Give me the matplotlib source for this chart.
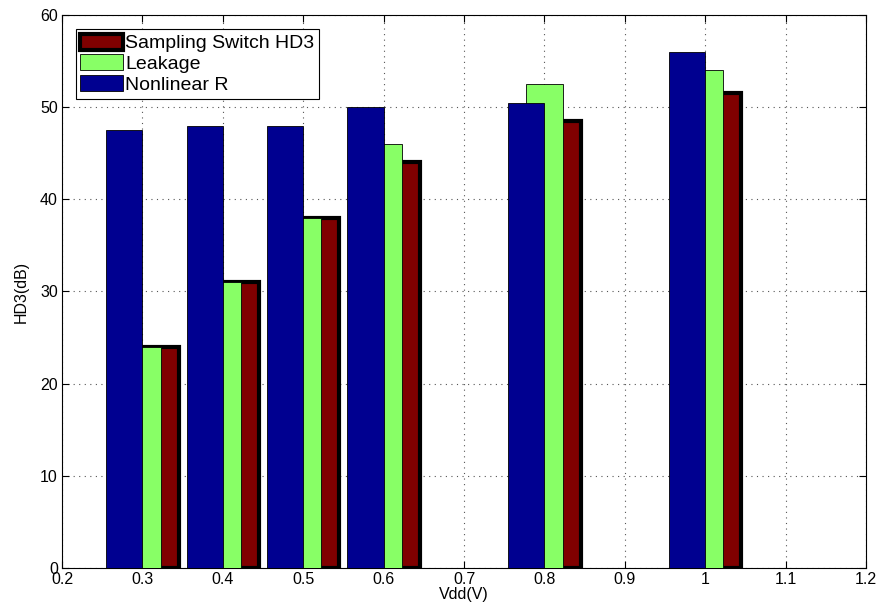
import matplotlib.pyplot as plt
import numpy as np

plt.rcParams['font.family'] = ['Liberation Sans', 'DejaVu Sans']

vdd = np.array([0.3, 0.4, 0.5, 0.6, 0.8, 1.0])
switch_hd3 = [24, 31, 38, 44, 48.5, 51.5]
leakage = [24, 31, 38, 46, 52.5, 54]
nonlinear_r = [47.5, 48, 48, 50, 50.5, 56]

width = 0.045

fig = plt.figure(figsize=(8.81, 6.16), dpi=100)
ax = fig.add_axes([0.0704, 0.078, 0.9126, 0.8976])

# drawn back to front: switch, leakage, nonlinear R on top
ax.bar(vdd + width / 2, switch_hd3, width, color='#800000', edgecolor='black',
       linewidth=3, label='Sampling Switch HD3', zorder=2)
ax.bar(vdd, leakage, width, color='#88ff66', edgecolor='black',
       linewidth=0.6, label='Leakage', zorder=3)
ax.bar(vdd - width / 2, nonlinear_r, width, color='#000090', edgecolor='black',
       linewidth=0.6, label='Nonlinear R', zorder=4)

ax.set_xlim(0.2, 1.2)
ax.set_ylim(0, 60)
ax.set_xticks(np.arange(0.2, 1.21, 0.1))
ax.set_xticklabels(['0.2', '0.3', '0.4', '0.5', '0.6', '0.7', '0.8', '0.9', '1', '1.1', '1.2'])
ax.set_yticks(np.arange(0, 61, 10))
ax.tick_params(direction='in', top=True, right=True, labelsize=11.5, length=5, pad=3)
ax.grid(True, linestyle=(0, (1, 4)), color='#555555', linewidth=0.8, zorder=0)
ax.set_axisbelow(True)
for s in ax.spines.values():
    s.set_linewidth(0.8)

ax.set_xlabel('Vdd(V)', fontsize=11.5, labelpad=0)
ax.set_ylabel('HD3(dB)', fontsize=11.5, labelpad=8)

leg = ax.legend(loc='upper left', fontsize=14, fancybox=False, framealpha=1,
                edgecolor='black', borderpad=0.25, handlelength=2.2,
                handleheight=0.9, handletextpad=0.1, labelspacing=0.1,
                borderaxespad=0.7)
leg.get_frame().set_linewidth(0.8)

fig.savefig('out.png', dpi=100)
